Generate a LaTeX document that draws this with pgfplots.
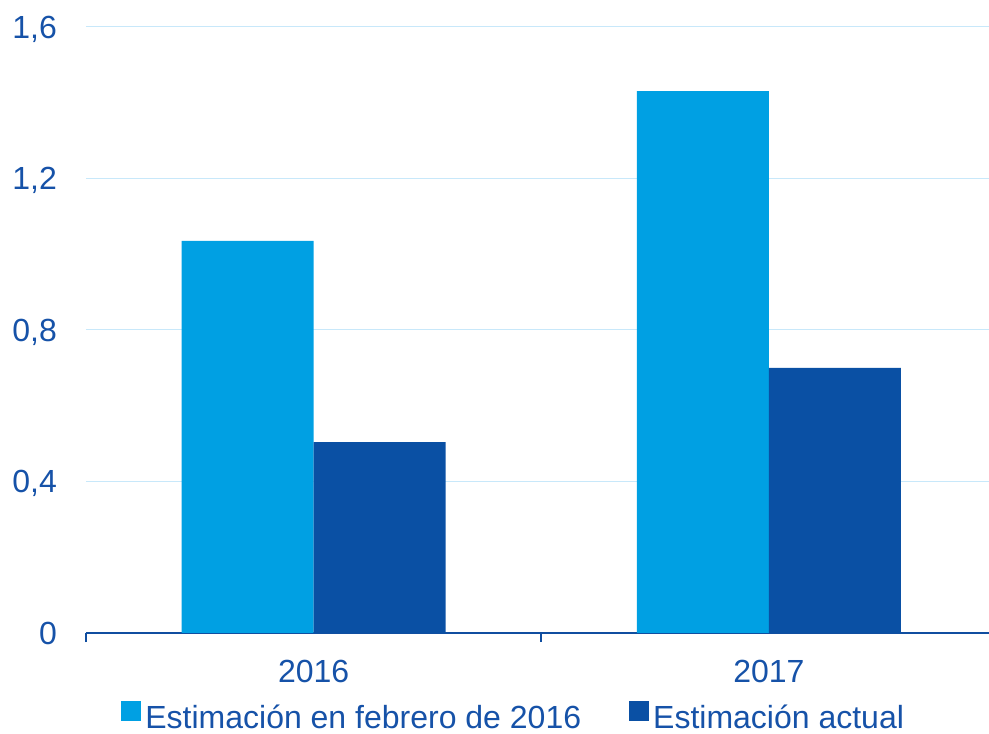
\documentclass[border=0pt]{standalone}
\usepackage{fontspec}
\setmainfont{Liberation Sans}
\usepackage{pgfplots}
\pgfplotsset{compat=1.18}
\definecolor{lightbar}{RGB}{0,160,227}
\definecolor{darkbar}{RGB}{10,80,164}
\definecolor{txt}{RGB}{22,82,168}
\definecolor{axisblue}{RGB}{16,78,160}
\definecolor{gridblue}{RGB}{200,232,250}
\begin{document}
\fontsize{32}{38}\selectfont
\begin{tikzpicture}
\path[use as bounding box] (-86pt,-101pt) rectangle (903pt,633pt);
\begin{axis}[
  at={(0,0)}, anchor=south west,
  scale only axis,
  width=903pt, height=606pt,
  ybar=0pt, bar width=132pt,
  xmin=-0.5, xmax=1.4835,
  ymin=0, ymax=1.6,
  ytick={0,0.4,0.8,1.2,1.6},
  yticklabels={0,{0,4},{0,8},{1,2},{1,6}},
  xtick={0,1}, xticklabels={2016,2017},
  major tick length=0pt,
  tick align=outside,
  extra x ticks={-0.5,0.5},
  extra x tick labels={},
  extra x tick style={major tick length=9pt, tick style={draw=axisblue, line width=1.6pt}},
  axis x line*=bottom, axis y line*=left,
  x axis line style={draw=axisblue, line width=1.8pt},
  y axis line style={draw=none},
  ymajorgrids, grid style={gridblue, line width=1pt},
  tick label style={font=\fontsize{32}{38}\selectfont, text=txt},
  yticklabel style={inner sep=0pt, anchor=east, text depth=0pt, xshift=-29pt},
  xticklabel style={inner sep=0pt, anchor=north, yshift=-27pt},
  legend style={draw=none, fill=none, at={(0.4725,-0.139)}, anchor=center,
    legend columns=2, font=\fontsize{32}{38}\selectfont, text=txt,
    column sep=4pt, /tikz/every even column/.append style={column sep=48pt},
    nodes={inner sep=0pt}},
  legend image code/.code={\fill[#1] (0pt,-2pt) rectangle (20pt,18pt);},
]
\addplot[fill=lightbar, draw=none] coordinates {(0,1.035) (1,1.431)};
\addplot[fill=darkbar, draw=none] coordinates {(0,0.504) (1,0.700)};
\legend{Estimación en febrero de 2016, Estimación actual}
\end{axis}
\end{tikzpicture}
\end{document}
